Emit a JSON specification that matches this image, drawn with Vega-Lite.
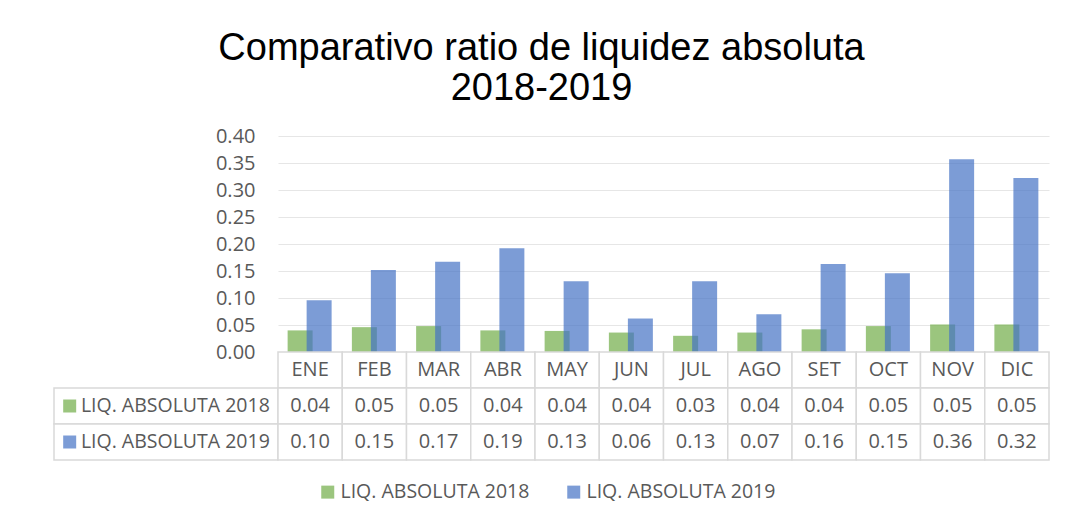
{
  "$schema": "https://vega.github.io/schema/vega-lite/v6.json",
  "padding": {"left": 53, "top": 30, "right": 10, "bottom": 10},
  "background": "white",
  "title": {
    "text": ["Comparativo ratio de liquidez absoluta", "2018-2019"],
    "font": "Liberation Sans",
    "fontSize": 38,
    "fontWeight": "normal",
    "color": "#000000",
    "anchor": "middle",
    "lineHeight": 40,
    "baseline": "alphabetic",
    "offset": -12,
    "dx": -10
  },
  "config": {
    "font": "Open Sans",
    "view": {"stroke": null},
    "concat": {"spacing": 0}
  },
  "datasets": {
    "liq": [
      {"mes": "ENE", "serie": "LIQ. ABSOLUTA 2018", "valor": 0.040},
      {"mes": "FEB", "serie": "LIQ. ABSOLUTA 2018", "valor": 0.046},
      {"mes": "MAR", "serie": "LIQ. ABSOLUTA 2018", "valor": 0.048},
      {"mes": "ABR", "serie": "LIQ. ABSOLUTA 2018", "valor": 0.040},
      {"mes": "MAY", "serie": "LIQ. ABSOLUTA 2018", "valor": 0.039},
      {"mes": "JUN", "serie": "LIQ. ABSOLUTA 2018", "valor": 0.036},
      {"mes": "JUL", "serie": "LIQ. ABSOLUTA 2018", "valor": 0.030},
      {"mes": "AGO", "serie": "LIQ. ABSOLUTA 2018", "valor": 0.036},
      {"mes": "SET", "serie": "LIQ. ABSOLUTA 2018", "valor": 0.042},
      {"mes": "OCT", "serie": "LIQ. ABSOLUTA 2018", "valor": 0.048},
      {"mes": "NOV", "serie": "LIQ. ABSOLUTA 2018", "valor": 0.051},
      {"mes": "DIC", "serie": "LIQ. ABSOLUTA 2018", "valor": 0.051},
      {"mes": "ENE", "serie": "LIQ. ABSOLUTA 2019", "valor": 0.096},
      {"mes": "FEB", "serie": "LIQ. ABSOLUTA 2019", "valor": 0.152},
      {"mes": "MAR", "serie": "LIQ. ABSOLUTA 2019", "valor": 0.167},
      {"mes": "ABR", "serie": "LIQ. ABSOLUTA 2019", "valor": 0.192},
      {"mes": "MAY", "serie": "LIQ. ABSOLUTA 2019", "valor": 0.131},
      {"mes": "JUN", "serie": "LIQ. ABSOLUTA 2019", "valor": 0.062},
      {"mes": "JUL", "serie": "LIQ. ABSOLUTA 2019", "valor": 0.131},
      {"mes": "AGO", "serie": "LIQ. ABSOLUTA 2019", "valor": 0.070},
      {"mes": "SET", "serie": "LIQ. ABSOLUTA 2019", "valor": 0.163},
      {"mes": "OCT", "serie": "LIQ. ABSOLUTA 2019", "valor": 0.146},
      {"mes": "NOV", "serie": "LIQ. ABSOLUTA 2019", "valor": 0.357},
      {"mes": "DIC", "serie": "LIQ. ABSOLUTA 2019", "valor": 0.322}
    ]
  },
  "columns": 2,
  "spacing": 0,
  "bounds": "flush",
  "concat": [
    {
      "width": 224,
      "height": 216,
      "data": {"values": [{}]},
      "mark": {"type": "text", "text": ""}
    },
    {
      "width": 771,
      "height": 216,
      "data": {"name": "liq"},
      "encoding": {
        "x": {
          "field": "mes", "type": "nominal",
          "sort": ["ENE","FEB","MAR","ABR","MAY","JUN","JUL","AGO","SET","OCT","NOV","DIC"],
          "scale": {"paddingInner": 0, "paddingOuter": 0},
          "axis": null
        },
        "y": {
          "field": "valor", "type": "quantitative",
          "scale": {"domain": [0, 0.4], "nice": false},
          "axis": {
            "title": null,
            "values": [0, 0.05, 0.1, 0.15, 0.2, 0.25, 0.3, 0.35, 0.4],
            "format": ".2f",
            "domain": false,
            "ticks": false,
            "labelPadding": 23,
            "labelFontSize": 20,
            "labelColor": "#595959",
            "labelFont": "Open Sans",
            "gridColor": "#e6e6e6",
            "gridWidth": 1.2
          }
        },
        "color": {
          "field": "serie", "type": "nominal",
          "scale": {"domain": ["LIQ. ABSOLUTA 2018", "LIQ. ABSOLUTA 2019"], "range": ["#70AD47", "#4472C4"]},
          "legend": {
            "title": null,
            "orient": "none",
            "direction": "horizontal",
            "legendX": 264,
            "legendY": 346,
            "padding": 0,
            "symbolType": "square",
            "symbolSize": 169,
            "symbolOpacity": 0.7,
            "symbolStrokeWidth": 0,
            "labelFont": "Open Sans",
            "labelFontSize": 19.5,
            "labelColor": "#595959",
            "labelOffset": 3,
            "labelLimit": 400,
            "columnPadding": 34
          }
        }
      },
      "layer": [
        {
          "transform": [{"filter": {"field": "serie", "equal": "LIQ. ABSOLUTA 2018"}}],
          "mark": {"type": "bar", "width": 25, "xOffset": -10, "opacity": 0.7}
        },
        {
          "transform": [{"filter": {"field": "serie", "equal": "LIQ. ABSOLUTA 2019"}}],
          "mark": {"type": "bar", "width": 25, "xOffset": 9, "opacity": 0.7}
        }
      ]
    },
    {
      "width": 224,
      "height": 36,
      "data": {"values": [{}]},
      "mark": {"type": "text", "text": ""}
    },
    {
      "width": 771,
      "height": 36,
      "data": {"name": "liq"},
      "transform": [{"filter": {"field": "serie", "equal": "LIQ. ABSOLUTA 2018"}}],
      "encoding": {
        "x": {
          "field": "mes", "type": "nominal",
          "sort": ["ENE","FEB","MAR","ABR","MAY","JUN","JUL","AGO","SET","OCT","NOV","DIC"],
          "scale": {"paddingInner": 0, "paddingOuter": 0},
          "axis": null
        }
      },
      "layer": [
        {"mark": {"type": "rect", "fill": "white", "stroke": "#d9d9d9", "strokeWidth": 1.5}},
        {
          "mark": {"type": "text", "fontSize": 20, "color": "#595959", "font": "Open Sans", "baseline": "middle"},
          "encoding": {"text": {"field": "mes"}}
        }
      ]
    },
    {
      "width": 224,
      "height": 72,
      "data": {"name": "liq"},
      "transform": [{"filter": {"field": "mes", "equal": "ENE"}}],
      "encoding": {
        "y": {
          "field": "serie", "type": "nominal",
          "scale": {"domain": ["LIQ. ABSOLUTA 2018", "LIQ. ABSOLUTA 2019"], "paddingInner": 0, "paddingOuter": 0},
          "axis": null
        }
      },
      "layer": [
        {"mark": {"type": "rect", "fill": "white", "stroke": "#d9d9d9", "strokeWidth": 1.5}},
        {
          "mark": {"type": "point", "shape": "square", "size": 169, "filled": true, "opacity": 0.7},
          "encoding": {
            "x": {"datum": 0.07, "type": "quantitative", "scale": {"domain": [0, 1], "nice": false, "zero": false}, "axis": null},
            "color": {"field": "serie", "type": "nominal"}
          }
        },
        {
          "mark": {"type": "text", "fontSize": 19.5, "color": "#595959", "font": "Open Sans", "align": "left", "baseline": "middle"},
          "encoding": {
            "x": {"datum": 0.12, "type": "quantitative", "scale": {"domain": [0, 1], "nice": false, "zero": false}, "axis": null},
            "text": {"field": "serie"}
          }
        }
      ]
    },
    {
      "width": 771,
      "height": 72,
      "data": {"name": "liq"},
      "encoding": {
        "x": {
          "field": "mes", "type": "nominal",
          "sort": ["ENE","FEB","MAR","ABR","MAY","JUN","JUL","AGO","SET","OCT","NOV","DIC"],
          "scale": {"paddingInner": 0, "paddingOuter": 0},
          "axis": null
        },
        "y": {
          "field": "serie", "type": "nominal",
          "scale": {"domain": ["LIQ. ABSOLUTA 2018", "LIQ. ABSOLUTA 2019"], "paddingInner": 0, "paddingOuter": 0},
          "axis": null
        }
      },
      "layer": [
        {"mark": {"type": "rect", "fill": "white", "stroke": "#d9d9d9", "strokeWidth": 1.5}},
        {
          "mark": {"type": "text", "fontSize": 20, "color": "#595959", "font": "Open Sans", "baseline": "middle"},
          "encoding": {"text": {"field": "valor", "format": ".2f"}}
        }
      ]
    }
  ]
}
